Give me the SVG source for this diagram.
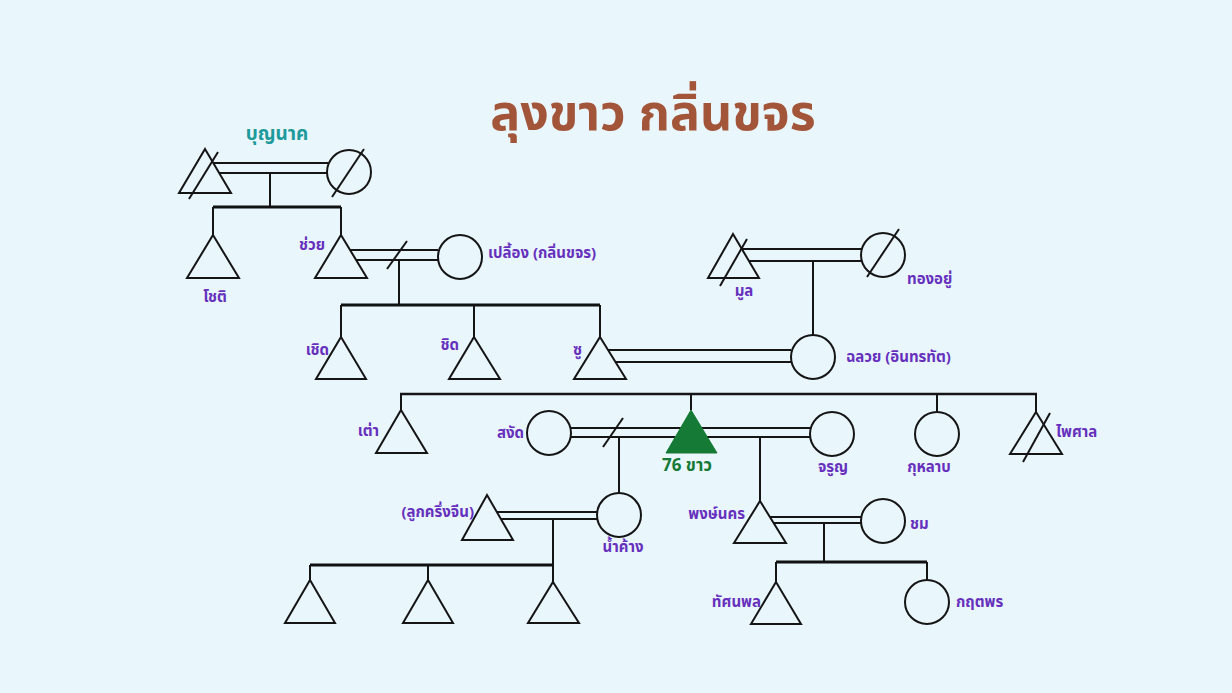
<svg xmlns="http://www.w3.org/2000/svg" width="1232" height="693" viewBox="0 0 1232 693">
<style>
.s{fill:none;stroke:#151515;stroke-width:2}
.t{fill:none;stroke:#151515;stroke-width:2}
.sib{fill:none;stroke:#111;stroke-width:3}
.lbl{font-family:"Noto Sans Thai","Noto Sans","DejaVu Sans",sans-serif;font-weight:bold;font-size:15px;fill:#6630bc}
.title{font-family:"Noto Sans Thai","Noto Sans","DejaVu Sans",sans-serif;font-weight:bold;font-size:50px;fill:#a3553a}
</style>
<rect width="1232" height="693" fill="#e9f6fc"/>
<text class="title" x="653" y="130" text-anchor="middle">ลุงขาว กลิ่นขจร</text>

<g id="connectors">
  <line class="s" x1="213" y1="163" x2="328" y2="163"/>
  <line class="s" x1="219" y1="173" x2="328" y2="173"/>
  <line class="s" x1="270" y1="173" x2="270" y2="207"/>
  <line class="sib" x1="213" y1="207" x2="341" y2="207"/>
  <line class="s" x1="213" y1="207" x2="213" y2="235"/>
  <line class="s" x1="341" y1="207" x2="341" y2="235"/>
  <line class="s" x1="350" y1="250" x2="438" y2="250"/>
  <line class="s" x1="356" y1="260" x2="438" y2="260"/>
  <line class="s" x1="387" y1="269" x2="407" y2="241"/>
  <line class="s" x1="399" y1="260" x2="399" y2="305"/>
  <line class="sib" x1="341" y1="305" x2="600" y2="305"/>
  <line class="s" x1="341" y1="305" x2="341" y2="337"/>
  <line class="s" x1="474" y1="305" x2="474" y2="337"/>
  <line class="s" x1="600" y1="305" x2="600" y2="337"/>
  <line class="s" x1="742" y1="249" x2="861" y2="249"/>
  <line class="s" x1="749" y1="261" x2="861" y2="261"/>
  <line class="s" x1="813" y1="261" x2="813" y2="335"/>
  <line class="s" x1="608" y1="350" x2="791" y2="350"/>
  <line class="s" x1="615" y1="362" x2="791" y2="362"/>
  <line class="s" x1="400" y1="394" x2="1037" y2="394" style="stroke-width:2.5"/>
  <line class="s" x1="401" y1="394" x2="401" y2="410"/>
  <line class="s" x1="691" y1="394" x2="691" y2="410"/>
  <line class="s" x1="937" y1="394" x2="937" y2="412"/>
  <line class="s" x1="1036" y1="394" x2="1036" y2="412"/>
  <line class="s" x1="571" y1="428" x2="681" y2="428"/>
  <line class="s" x1="571" y1="437" x2="675" y2="437"/>
  <line class="s" x1="603" y1="447" x2="623" y2="418"/>
  <line class="s" x1="619" y1="437" x2="619" y2="493"/>
  <line class="s" x1="701" y1="428" x2="810" y2="428"/>
  <line class="s" x1="707" y1="437" x2="810" y2="437"/>
  <line class="s" x1="760" y1="437" x2="760" y2="501"/>
  <line class="s" x1="497" y1="512" x2="597" y2="512"/>
  <line class="s" x1="501" y1="519" x2="597" y2="519"/>
  <line class="s" x1="553" y1="519" x2="553" y2="582"/>
  <line class="sib" x1="310" y1="565" x2="553" y2="565"/>
  <line class="s" x1="310" y1="565" x2="310" y2="580"/>
  <line class="s" x1="428" y1="565" x2="428" y2="580"/>
  <line class="s" x1="770" y1="517" x2="861" y2="517"/>
  <line class="s" x1="773" y1="523" x2="861" y2="523"/>
  <line class="s" x1="824" y1="523" x2="824" y2="562"/>
  <line class="sib" x1="776" y1="562" x2="927" y2="562"/>
  <line class="s" x1="776" y1="562" x2="776" y2="582"/>
  <line class="s" x1="927" y1="562" x2="927" y2="580"/>
</g>

<g id="n-bunnak-husband">
  <polygon class="t" points="205,149 231,193 179,193"/>
  <line class="s" x1="189" y1="199" x2="218" y2="152"/>
</g>
<g id="n-bunnak">
  <circle class="t" cx="349" cy="172" r="22"/>
  <line class="s" x1="332" y1="197" x2="364" y2="149"/>
  <text x="277" y="140" text-anchor="middle" style="font-family:'Noto Sans Thai','Noto Sans','DejaVu Sans',sans-serif;font-weight:bold;font-size:19px;fill:#1d9a9c">บุญนาค</text>
</g>
<g id="n-chot">
  <polygon class="t" points="213,235 239,278 187,278"/>
  <text class="lbl" x="215" y="302" text-anchor="middle">โชติ</text>
</g>
<g id="n-chuay">
  <polygon class="t" points="341,235 367,278 315,278"/>
  <text class="lbl" x="325" y="250" text-anchor="end">ช่วย</text>
</g>
<g id="n-pleang">
  <circle class="t" cx="460" cy="257" r="22"/>
  <text class="lbl" x="488" y="258">เปลี้อง (กลิ่นขจร)</text>
</g>
<g id="n-choed">
  <polygon class="t" points="341,337 366,379 316,379"/>
  <text class="lbl" x="329" y="355" text-anchor="end">เชิด</text>
</g>
<g id="n-chit">
  <polygon class="t" points="474,337 500,379 449,379"/>
  <text class="lbl" x="459" y="350" text-anchor="end">ชิด</text>
</g>
<g id="n-su">
  <polygon class="t" points="600,337 626,379 574,379"/>
  <text class="lbl" x="582" y="355" text-anchor="end">ซู</text>
</g>
<g id="n-mun">
  <polygon class="t" points="733,234 759,278 708,278"/>
  <line class="s" x1="720" y1="286" x2="747" y2="239"/>
  <text class="lbl" x="744" y="296" text-anchor="middle">มูล</text>
</g>
<g id="n-thongyu">
  <circle class="t" cx="883" cy="255" r="22"/>
  <line class="s" x1="867" y1="277" x2="899" y2="229"/>
  <text class="lbl" x="907" y="284">ทองอยู่</text>
</g>
<g id="n-chaluay">
  <circle class="t" cx="813" cy="357" r="22"/>
  <text class="lbl" x="846" y="362">ฉลวย (อินทรทัต)</text>
</g>
<g id="n-tao">
  <polygon class="t" points="401,410 427,453 376,453"/>
  <text class="lbl" x="379" y="436" text-anchor="end">เต่า</text>
</g>
<g id="n-sangat">
  <circle class="t" cx="549" cy="433" r="22"/>
  <text class="lbl" x="524" y="438" text-anchor="end">สงัด</text>
</g>
<g id="n-khao">
  <polygon points="691,410 717,453 666,453" fill="#147a35" stroke="#147a35" stroke-width="1"/>
  <text x="687" y="471" text-anchor="middle" style="font-family:'Noto Sans Thai','Noto Sans','DejaVu Sans',sans-serif;font-weight:bold;font-size:17px;fill:#147a35">76 ขาว</text>
</g>
<g id="n-charun">
  <circle class="t" cx="832" cy="434" r="22"/>
  <text class="lbl" x="833" y="472" text-anchor="middle">จรูญ</text>
</g>
<g id="n-kulap">
  <circle class="t" cx="937" cy="434" r="22"/>
  <text class="lbl" x="929" y="472" text-anchor="middle">กุหลาบ</text>
</g>
<g id="n-phaisan">
  <polygon class="t" points="1036,412 1062,454 1010,454"/>
  <line class="s" x1="1023" y1="462" x2="1050" y2="413"/>
  <text class="lbl" x="1056" y="437">ไพศาล</text>
</g>
<g id="n-lukkhrueng">
  <polygon class="t" points="487,495 513,540 462,540"/>
  <text class="lbl" x="474" y="517" text-anchor="end">(ลูกครึ่งจีน)</text>
</g>
<g id="n-namkhang">
  <circle class="t" cx="619" cy="515" r="22"/>
  <text class="lbl" x="623" y="552" text-anchor="middle">น้ำค้าง</text>
</g>
<g id="n-child1">
  <polygon class="t" points="310,580 335,623 285,623"/>
</g>
<g id="n-child2">
  <polygon class="t" points="428,580 453,623 403,623"/>
</g>
<g id="n-child3">
  <polygon class="t" points="553,582 579,623 528,623"/>
</g>
<g id="n-phongnakhon">
  <polygon class="t" points="760,501 786,543 734,543"/>
  <text class="lbl" x="745" y="519" text-anchor="end">พงษ์นคร</text>
</g>
<g id="n-chom">
  <circle class="t" cx="883" cy="521" r="22"/>
  <text class="lbl" x="910" y="529">ชม</text>
</g>
<g id="n-thatsanaphon">
  <polygon class="t" points="776,582 801,624 751,624"/>
  <text class="lbl" x="761" y="607" text-anchor="end">ทัศนพล</text>
</g>
<g id="n-kritaphon">
  <circle class="t" cx="927" cy="602" r="22"/>
  <text class="lbl" x="956" y="607">กฤตพร</text>
</g>
</svg>
